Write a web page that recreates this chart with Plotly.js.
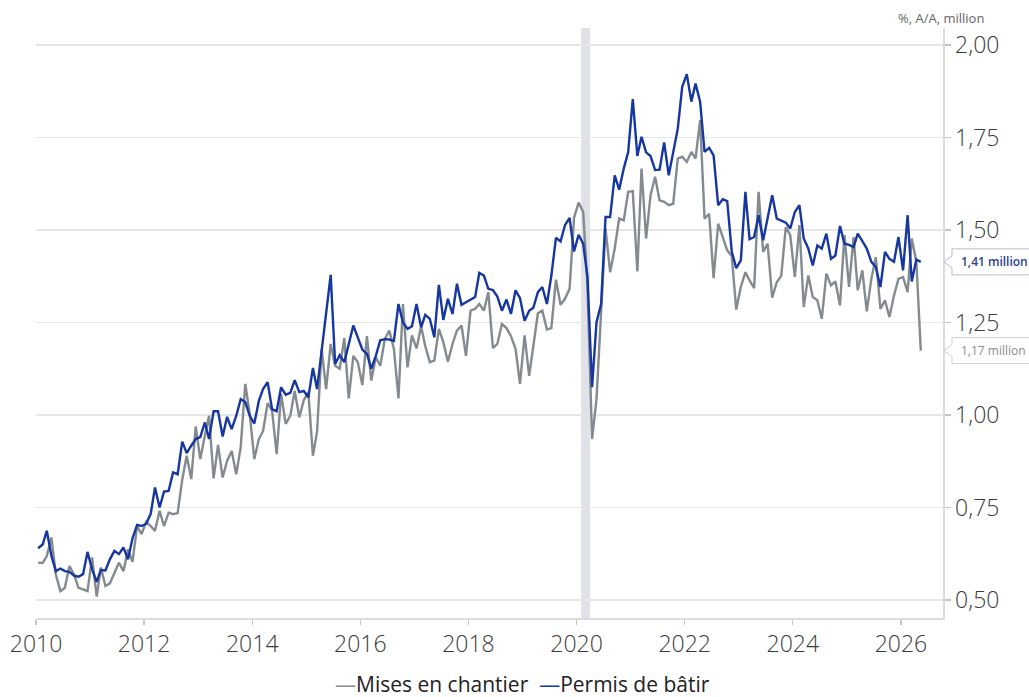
<!DOCTYPE html>
<html>
<head>
<meta charset="utf-8">
<script src="https://cdn.plot.ly/plotly-3.0.1.min.js"></script>
<style>
  html, body { margin: 0; padding: 0; background: #ffffff; }
  #chart { width: 1029px; height: 697px; }
</style>
</head>
<body>
<div id="chart"></div>
<script>
// ---- data (monthly, January 2010 onwards, millions) ----
const startYear = 2010;
const miseEnChantier = [
  0.601, 0.600, 0.619, 0.669, 0.569, 0.524, 0.533, 0.592, 0.569, 0.533, 0.529, 0.524,
  0.615, 0.509, 0.588, 0.538, 0.545, 0.574, 0.601, 0.578, 0.637, 0.603, 0.700, 0.678,
  0.711, 0.700, 0.687, 0.741, 0.700, 0.736, 0.732, 0.735, 0.825, 0.890, 0.827, 0.969,
  0.881, 0.944, 0.998, 0.829, 0.919, 0.831, 0.876, 0.903, 0.840, 0.913, 1.084, 1.003,
  0.881, 0.935, 0.957, 1.032, 1.012, 0.894, 1.057, 0.976, 0.998, 1.065, 0.994, 1.040,
  1.062, 0.890, 0.955, 1.179, 1.070, 1.192, 1.133, 1.125, 1.208, 1.045, 1.160, 1.143,
  1.081, 1.213, 1.093, 1.156, 1.133, 1.206, 1.228, 1.179, 1.045, 1.300, 1.129, 1.215,
  1.180, 1.240, 1.186, 1.143, 1.147, 1.233, 1.197, 1.144, 1.192, 1.228, 1.242, 1.160,
  1.282, 1.287, 1.300, 1.282, 1.332, 1.181, 1.192, 1.246, 1.235, 1.213, 1.179, 1.084,
  1.215, 1.106, 1.183, 1.275, 1.282, 1.231, 1.235, 1.366, 1.298, 1.314, 1.341, 1.533,
  1.574, 1.549, 1.350, 0.935, 1.043, 1.278, 1.504, 1.386, 1.450, 1.531, 1.526, 1.603,
  1.605, 1.388, 1.666, 1.477, 1.594, 1.644, 1.580, 1.576, 1.567, 1.571, 1.693, 1.698,
  1.684, 1.711, 1.693, 1.797, 1.531, 1.544, 1.370, 1.517, 1.477, 1.445, 1.430, 1.285,
  1.346, 1.386, 1.364, 1.343, 1.603, 1.441, 1.463, 1.317, 1.359, 1.376, 1.508, 1.486,
  1.373, 1.513, 1.292, 1.377, 1.319, 1.310, 1.260, 1.382, 1.350, 1.361, 1.296, 1.486,
  1.346, 1.481, 1.337, 1.391, 1.280, 1.368, 1.427, 1.287, 1.310, 1.265, 1.323, 1.368,
  1.373, 1.332, 1.477, 1.414, 1.174
];
const permisDeBatir = [
  0.640, 0.650, 0.687, 0.620, 0.578, 0.585, 0.578, 0.576, 0.566, 0.563, 0.570, 0.630,
  0.583, 0.549, 0.581, 0.580, 0.610, 0.633, 0.624, 0.642, 0.610, 0.667, 0.703, 0.700,
  0.706, 0.733, 0.804, 0.750, 0.793, 0.795, 0.845, 0.840, 0.928, 0.897, 0.917, 0.935,
  0.940, 0.980, 0.935, 1.010, 1.010, 0.942, 0.995, 0.962, 0.998, 1.043, 1.035, 0.998,
  0.977, 1.039, 1.070, 1.089, 1.016, 1.010, 1.075, 1.055, 1.060, 1.094, 1.062, 1.065,
  1.048, 1.127, 1.070, 1.170, 1.280, 1.379, 1.138, 1.162, 1.143, 1.190, 1.242, 1.210,
  1.177, 1.165, 1.125, 1.160, 1.202, 1.205, 1.204, 1.200, 1.300, 1.250, 1.233, 1.240,
  1.300, 1.237, 1.271, 1.260, 1.210, 1.352, 1.257, 1.314, 1.273, 1.355, 1.298, 1.305,
  1.312, 1.319, 1.384, 1.377, 1.341, 1.338, 1.320, 1.282, 1.312, 1.273, 1.337, 1.316,
  1.255, 1.282, 1.290, 1.332, 1.346, 1.300, 1.377, 1.479, 1.469, 1.513, 1.533, 1.442,
  1.487, 1.463, 1.373, 1.075, 1.251, 1.300, 1.535, 1.535, 1.648, 1.609, 1.666, 1.711,
  1.854, 1.700, 1.752, 1.710, 1.700, 1.662, 1.663, 1.737, 1.648, 1.707, 1.774, 1.887,
  1.921, 1.847, 1.896, 1.847, 1.711, 1.722, 1.702, 1.567, 1.583, 1.578, 1.441, 1.397,
  1.418, 1.603, 1.475, 1.481, 1.540, 1.472, 1.530, 1.594, 1.531, 1.525, 1.520, 1.504,
  1.549, 1.567, 1.477, 1.450, 1.404, 1.458, 1.450, 1.490, 1.422, 1.431, 1.511, 1.463,
  1.460, 1.454, 1.490, 1.470, 1.450, 1.414, 1.400, 1.346, 1.441, 1.422, 1.414, 1.481,
  1.391, 1.540, 1.361, 1.420, 1.414
];
const seriesNames = ['Mises en chantier', 'Permis de bâtir'];
const unitLabel = '%, A/A, million';
const recessionPeriod = ['2020-02-01', '2020-04-01'];
const xRange = ['2010-01-01', '2026-10-12'];
const yTickValues = [0.50, 0.75, 1.00, 1.25, 1.50, 1.75, 2.00];
const yRange = [0.4514, 2.046];

// ---- styles ----
const greyColor = '#838b90';
const blueColor = '#1637a0';
const fontFam = '"Open Sans", "Noto Sans", sans-serif';

function monthDates(n) {
  const out = [];
  for (let k = 0; k < n; k++) {
    const y = startYear + Math.floor(k / 12);
    const m = (k % 12) + 1;
    out.push(y + '-' + String(m).padStart(2, '0') + '-15');
  }
  return out;
}

const xs = monthDates(permisDeBatir.length);
const xg = monthDates(miseEnChantier.length);

const traces = [
  { x: xg, y: miseEnChantier, type: 'scatter', mode: 'lines', name: seriesNames[0],
    line: { color: greyColor, width: 2.4 }, showlegend: false, hoverinfo: 'x+y' },
  { x: xs, y: permisDeBatir, type: 'scatter', mode: 'lines', name: seriesNames[1],
    line: { color: blueColor, width: 2.4 }, showlegend: false, hoverinfo: 'x+y' }
];

const plotW = 1029 - 36 - 86;
function pxToPaperX(px) { return (px - 36) / plotW; }

const lastG = miseEnChantier[miseEnChantier.length - 1];
const lastB = permisDeBatir[permisDeBatir.length - 1];
const fmt = v => v.toFixed(2).replace('.', ',') + ' million';

const dataPerPx = (yRange[1] - yRange[0]) / (697 - 28 - 79);
function labelBox(v, color) {
  const L = pxToPaperX(952), R = pxToPaperX(1040), T = pxToPaperX(944);
  const h = 13 * dataPerPx, n = 6 * dataPerPx;
  return {
    type: 'path', xref: 'paper', yref: 'y', layer: 'above',
    path: `M ${L},${v + h} L ${R},${v + h} L ${R},${v - h} L ${L},${v - h} L ${L},${v - n} L ${T},${v} L ${L},${v + n} Z`,
    line: { color: color, width: 1 }, fillcolor: '#ffffff'
  };
}

const layout = {
  width: 1029, height: 697,
  margin: { l: 36, r: 86, t: 28, b: 79, pad: 0 },
  paper_bgcolor: '#ffffff', plot_bgcolor: '#ffffff',
  separators: ', ',
  showlegend: false,
  font: { family: fontFam, color: '#404040' },
  xaxis: {
    type: 'date', range: xRange,
    tick0: '2010-01-01', dtick: 'M24', tickformat: '%Y',
    showgrid: false, zeroline: false,
    showline: true, linecolor: '#dcdcdc', linewidth: 1.5, mirror: false,
    ticks: 'outside', ticklen: 5, tickcolor: '#c4c4c4', tickwidth: 1.2,
    tickfont: { family: fontFam, size: 23, color: '#3a3a3a', weight: 300 }
  },
  yaxis: {
    side: 'right', range: yRange,
    tickvals: yTickValues, tickformat: '.2f',
    showgrid: true, gridcolor: '#e6e6e6', gridwidth: 1.2, zeroline: false,
    showline: true, linecolor: '#dcdcdc', linewidth: 1.5,
    ticks: 'outside', ticklen: 6, tickcolor: '#c4c4c4', tickwidth: 1.2,
    tickfont: { family: fontFam, size: 23, color: '#3a3a3a', weight: 300 }
  },
  shapes: [
    { type: 'rect', xref: 'x', yref: 'paper', x0: recessionPeriod[0], x1: recessionPeriod[1],
      y0: 0, y1: 1, fillcolor: '#dfe2e8', line: { width: 0 }, layer: 'below' },
    labelBox(lastB, '#b3bcdc'),
    labelBox(lastG, '#cfcfcf')
  ],
  annotations: [
    { xref: 'paper', yref: 'paper', x: pxToPaperX(941), y: (618 - 18) / 590, xanchor: 'center', yanchor: 'middle',
      text: unitLabel, showarrow: false, font: { family: fontFam, size: 13, color: '#666666' } },
    { xref: 'paper', yref: 'y', x: pxToPaperX(959), y: lastB, xanchor: 'left', yanchor: 'middle',
      text: fmt(lastB), showarrow: false, font: { family: fontFam, size: 12, color: '#2b3f94', weight: 600 } },
    { xref: 'paper', yref: 'y', x: pxToPaperX(959), y: lastG, xanchor: 'left', yanchor: 'middle',
      text: fmt(lastG), showarrow: false, font: { family: fontFam, size: 12, color: '#8c8c8c', weight: 400 } },
    { xref: 'paper', yref: 'paper', x: pxToPaperX(522), y: (618 - 684) / 590, xanchor: 'center', yanchor: 'middle',
      text: '<span style="color:' + greyColor + '">—</span>' + seriesNames[0] +
            '\u00a0 <span style="color:' + blueColor + '">—</span>' + seriesNames[1],
      showarrow: false, font: { family: fontFam, size: 21, color: '#222222' } }
  ]
};

Plotly.newPlot('chart', traces, layout, { displayModeBar: false, responsive: false, staticPlot: true });
</script>
</body>
</html>
